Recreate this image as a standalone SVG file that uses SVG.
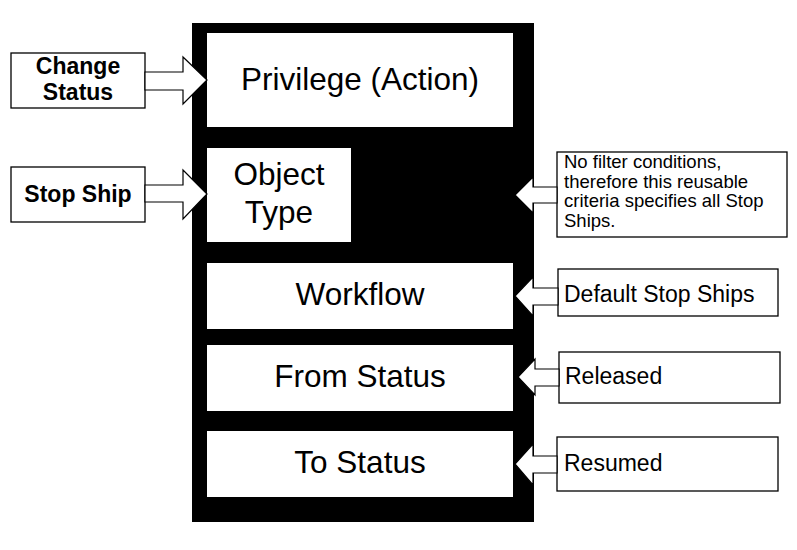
<svg xmlns="http://www.w3.org/2000/svg" width="797" height="550" viewBox="0 0 797 550">
<style>
  .frame { fill: #000; }
  .inner { fill: #fff; }
  .box { fill: #fff; stroke: #000; stroke-width: 1.3; }
  .arrow { fill: #fff; stroke: #000; stroke-width: 1.2; stroke-linejoin: miter; }
  .big { font-family: "Liberation Sans", Arial, sans-serif; font-size: 31.5px; fill: #000; text-anchor: middle; }
  .bold { font-family: "Liberation Sans", Arial, sans-serif; font-size: 23px; font-weight: bold; fill: #000; text-anchor: middle; }
  .note { font-family: "Liberation Sans", Arial, sans-serif; font-size: 23px; fill: #000; }
  .small { font-family: "Liberation Sans", Arial, sans-serif; font-size: 18.5px; fill: #000; }
</style>
<rect width="797" height="550" fill="#fff"/>
<g id="frame">
  <rect class="frame" x="192" y="23" width="342" height="499"/>
</g>
<g id="privilege">
  <rect class="inner" x="207" y="33" width="306" height="94"/>
  <text class="big" x="360" y="90">Privilege (Action)</text>
</g>
<g id="object-type">
  <rect class="inner" x="207" y="148" width="144" height="94"/>
  <text class="big" x="279" y="185">Object</text>
  <text class="big" x="279" y="223">Type</text>
</g>
<g id="workflow">
  <rect class="inner" x="207" y="263" width="306" height="66"/>
  <text class="big" x="360" y="305">Workflow</text>
</g>
<g id="from-status">
  <rect class="inner" x="207" y="345" width="306" height="66"/>
  <text class="big" x="360" y="387">From Status</text>
</g>
<g id="to-status">
  <rect class="inner" x="207" y="431" width="306" height="66"/>
  <text class="big" x="360" y="473">To Status</text>
</g>
<g id="change-status">
  <rect class="box" x="11" y="53" width="134" height="55"/>
  <text class="bold" x="78" y="74">Change</text>
  <text class="bold" x="78" y="100">Status</text>
</g>
<g id="stop-ship">
  <rect class="box" x="11" y="167" width="134" height="55"/>
  <text class="bold" x="78" y="202">Stop Ship</text>
</g>
<g id="no-filter">
  <rect class="box" x="557" y="152" width="230" height="85"/>
  <text class="small" x="564" y="168">No filter conditions,</text>
  <text class="small" x="564" y="187.5">therefore this reusable</text>
  <text class="small" x="564" y="207">criteria specifies all Stop</text>
  <text class="small" x="564" y="226.5">Ships.</text>
</g>
<g id="default-stop-ships">
  <rect class="box" x="558" y="269" width="220" height="47"/>
  <text class="note" x="564" y="302">Default Stop Ships</text>
</g>
<g id="released">
  <rect class="box" x="559" y="352" width="221" height="51"/>
  <text class="note" x="565" y="384">Released</text>
</g>
<g id="resumed">
  <rect class="box" x="557" y="437" width="221" height="54"/>
  <text class="note" x="564" y="471">Resumed</text>
</g>
<g id="connectors">
  <polygon class="arrow" points="145,72 183,72 183,57 207,80 183,104 183,90 145,90"/>
  <polygon class="arrow" points="145,185 183,185 183,170 207,194 183,219 183,202 145,202"/>
  <polygon class="arrow" points="557,187 533,187 533,177 515,195 533,213 533,203 557,203"/>
  <polygon class="arrow" points="558,288 533,288 533,277 515,296 533,316 533,305 558,305"/>
  <polygon class="arrow" points="559,369 535,369 535,359 518,377 535,395 535,386 559,386"/>
  <polygon class="arrow" points="557,456 533,456 533,444 515,464 533,485 533,473 557,473"/>
</g>
</svg>
